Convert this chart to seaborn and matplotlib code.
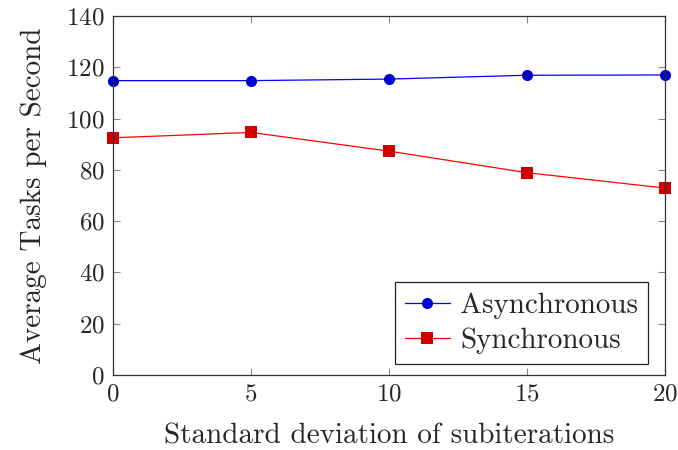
import matplotlib
matplotlib.use("Agg")
import matplotlib.pyplot as plt
import seaborn as sns
import pandas as pd

x_values = [0, 5, 10, 15, 20]
async_values = [114.8, 114.8, 115.4, 116.9, 117.0]
sync_values = [92.5, 94.6, 87.3, 78.9, 72.9]
series_names = ["Asynchronous", "Synchronous"]
y_ticks = [0, 20, 40, 60, 80, 100, 120, 140]
x_ticks = [0, 5, 10, 15, 20]

df = pd.DataFrame({
    "x": x_values * 2,
    "y": async_values + sync_values,
    "series": [series_names[0]] * 5 + [series_names[1]] * 5,
})

sns.set_theme(style="white")
plt.rcParams["font.family"] = ["cmr10", "DejaVu Serif"]
plt.rcParams["axes.formatter.use_mathtext"] = True
plt.rcParams["mathtext.fontset"] = "cm"

fig = plt.figure(figsize=(6.78, 4.5), dpi=100)
ax = fig.add_axes([113/678, 1-375/450, (665-113)/678, (375-16)/450])

palette = {"Asynchronous": (0, 0, 1), "Synchronous": (1, 0, 0)}
markers = {"Asynchronous": "o", "Synchronous": "s"}
sns.lineplot(data=df, x="x", y="y", hue="series", style="series",
             palette=palette, markers=markers, dashes=False, ax=ax,
             linewidth=0.9, markersize=8, markeredgewidth=0, legend=False)

fills = {"Asynchronous": (0, 0, 0.82), "Synchronous": (0.82, 0, 0)}
for line, name in zip(ax.get_lines(), series_names):
    line.set_markerfacecolor(fills[name])
    line.set_markeredgecolor(fills[name])
    line.set_clip_on(False)
    line.set_label(name)

ax.set_xlim(0, 20)
ax.set_ylim(0, 140)
ax.set_xticks(x_ticks)
ax.set_yticks(y_ticks)
ax.tick_params(direction="in", length=5, width=0.8, color="#888888",
               top=True, right=True, labelsize=18, pad=6,
               bottom=True, left=True)
for s in ax.spines.values():
    s.set_color("#333333")
    s.set_linewidth(0.9)
ax.set_xlabel("Standard deviation of subiterations", fontsize=21, labelpad=13)
ax.set_ylabel("Average Tasks per Second", fontsize=21, labelpad=14)

leg = ax.legend(loc="lower right", fontsize=21, frameon=True, fancybox=False,
                edgecolor="#222222", framealpha=1, borderpad=0.35,
                handlelength=1.55, handletextpad=0.35, labelspacing=0.3,
                borderaxespad=0, bbox_to_anchor=(0.97, 0.03))
leg.get_frame().set_linewidth(0.9)

fig.savefig("out.png", dpi=100)
